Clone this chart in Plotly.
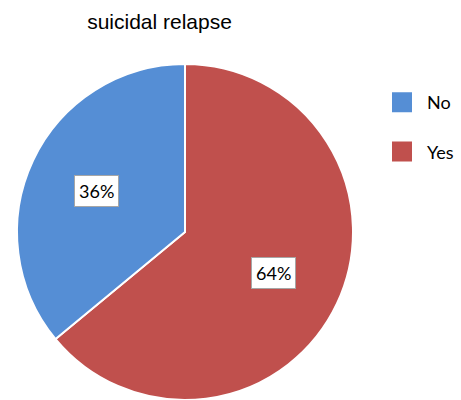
import math
import plotly.graph_objects as go

# ---- data ----
labels = ["No", "Yes"]
values = [36, 64]
colors = ["#558ED5", "#C0504D"]
title_text = "suicidal relapse"

W, H = 461, 400
cx, cy, r = 185, 232, 168  # pie centre / radius in pixels

dom_x = [(cx - r) / W, (cx + r) / W]
dom_y = [1 - (cy + r) / H, 1 - (cy - r) / H]

# pie drawn clockwise from 12 o'clock: Yes first, then No
order = [1, 0]
pie_labels = [labels[i] for i in order]
pie_values = [values[i] for i in order]
pie_colors = [colors[i] for i in order]

fig = go.Figure()
fig.add_trace(go.Pie(
    labels=pie_labels, values=pie_values, sort=False, direction="clockwise",
    rotation=0, marker=dict(colors=pie_colors, line=dict(color="white", width=2)),
    textinfo="none", hoverinfo="label+percent", showlegend=False,
    domain=dict(x=dom_x, y=dom_y),
))

# legend-only entries (bigger squares + spacing)
for lab, col in zip(labels, colors):
    fig.add_trace(go.Scatter(
        x=[None], y=[None], mode="markers", name=lab, legendgroup=lab,
        marker=dict(symbol="square", size=16, color=col, line=dict(color=col, width=4)),
    ))

# percentage labels derived from data
total = sum(pie_values)
cum = 0
for v in pie_values:
    mid = (cum + v / 2) / total * 2 * math.pi
    cum += v
    d = 0.58 * r
    px = cx + math.sin(mid) * d
    py = cy - math.cos(mid) * d
    fig.add_annotation(
        x=px / W, y=1 - py / H, xref="paper", yref="paper",
        xanchor="center", yanchor="middle",
        text=f"{round(v / total * 100)}%", showarrow=False,
        font=dict(family="Lato", size=18, color="black"),
        bgcolor="white", bordercolor="#A6A6A6", borderwidth=1, borderpad=4,
    )

fig.update_layout(
    width=W, height=H,
    margin=dict(l=0, r=0, t=0, b=0),
    paper_bgcolor="white", plot_bgcolor="white",
    title=dict(text=title_text, x=159.5 / W, xanchor="center",
               y=1 - 22 / H, yanchor="middle", yref="container",
               font=dict(family="Liberation Sans", size=21, color="black")),
    xaxis=dict(visible=False), yaxis=dict(visible=False),
    legend=dict(x=377 / W, xanchor="left", y=1 - 84 / H, yanchor="top",
                itemwidth=40, tracegroupgap=23,
                font=dict(family="Lato", size=18, color="black"),
                bgcolor="rgba(0,0,0,0)"),
)

fig.write_html("out.html")
